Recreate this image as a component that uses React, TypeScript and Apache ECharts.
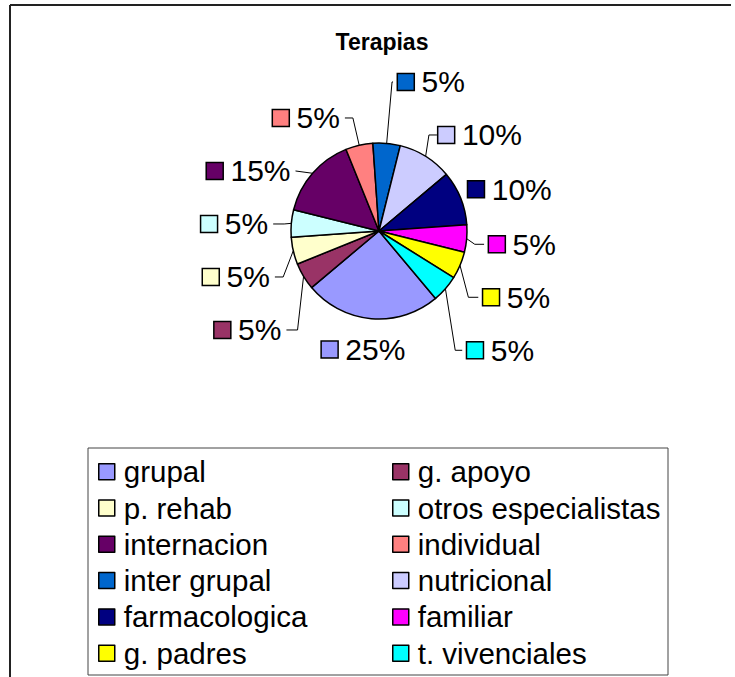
import React, { useEffect, useRef } from "react";
import * as echarts from "echarts";

const chartTitle = "Terapias";
const categories = [
  "grupal",
  "g. apoyo",
  "p. rehab",
  "otros especialistas",
  "internacion",
  "individual",
  "inter grupal",
  "nutricional",
  "farmacologica",
  "familiar",
  "g. padres",
  "t. vivenciales",
];
const values = [5, 1, 1, 1, 3, 1, 1, 2, 2, 1, 1, 1];
const colors = [
  "#9999FF",
  "#993366",
  "#FFFFCC",
  "#CCFFFF",
  "#660066",
  "#FF8080",
  "#0066CC",
  "#CCCCFF",
  "#000080",
  "#FF00FF",
  "#FFFF00",
  "#00FFFF",
];

// label-line styling (layout only, per slice in the same order as categories)
const lineLen = [22, 32, 18.5, 12, 15, 28, 61.6, 26, 18, 13, 12, 13];
const lineLen2 = [0, 11.1, 8.3, 11, 0, 8, 1, 8, 0, 9.3, 9.9, 7];
const lineShown = [false, true, true, true, true, true, true, true, false, true, true, true];
const boxHeight = [30, 51, 51, 51, 51, 51, 51, 51, 51, 51, 51, 51];
// small label nudges (pixels) applied after the library's own label layout
const nudgeX = [41, 0, 0, 0, 0, 0, 0, -34.7, -13, 0, 0, 0];
const nudgeY = [-23, 0, 0, 0, 0, 0, 0, 0, -2, 0, 0, 0];

const FONT = "'Liberation Sans', Arial, sans-serif";

export default function App() {
  const ref = useRef<HTMLDivElement>(null);
  useEffect(() => {
    document.body.style.margin = "0";
    if (!ref.current) return;
    const chart = echarts.init(ref.current, null, { renderer: "svg" });
    const rich: any = {};
    colors.forEach((c, i) => {
      rich["sq" + i] = { width: 15.5, height: 15.5, backgroundColor: c, borderColor: "#000", borderWidth: 1.5 };
      rich["t" + i] = { fontSize: 30, fontFamily: FONT, color: "#000", padding: [0, 0, 0, 8], lineHeight: boxHeight[i] };
    });
    const leftCol = categories.filter((_, i) => i % 2 === 0);
    const rightCol = categories.filter((_, i) => i % 2 === 1);
    const legendBase = {
      orient: "vertical",
      icon: "rect",
      itemWidth: 16,
      itemHeight: 16,
      itemGap: 6.3,
      top: 456.7,
      padding: 0,
      selectedMode: false,
      itemStyle: { borderColor: "#000", borderWidth: 1.5 },
      textStyle: { fontSize: 29.5, fontFamily: FONT, color: "#000", lineHeight: 30, padding: [0, 0, 0, 4] },
    };
    chart.setOption({
      animation: false,
      backgroundColor: "#fff",
      color: colors,
      legend: [
        { ...legendBase, left: 98, data: leftCol },
        { ...legendBase, left: 392, data: rightCol },
      ],
      graphic: [
        { type: "line", shape: { x1: 10, y1: 5, x2: 731, y2: 5 }, style: { stroke: "#222", lineWidth: 2 } },
        { type: "line", shape: { x1: 10, y1: 5, x2: 10, y2: 677 }, style: { stroke: "#222", lineWidth: 2 } },
        {
          type: "rect",
          shape: { x: 88, y: 448, width: 580, height: 227 },
          style: { fill: "none", stroke: "#444", lineWidth: 1 },
          z: -1,
        },
        {
          type: "text",
          x: 382,
          y: 30,
          style: {
            text: chartTitle,
            textAlign: "center",
            textVerticalAlign: "top",
            font: "bold 23px 'Liberation Sans', Arial, sans-serif",
            fill: "#000",
          },
        },
      ],
      series: [
        {
          type: "pie",
          center: [379, 231],
          radius: 88,
          startAngle: -50,
          clockwise: true,
          avoidLabelOverlap: true,
          emphasis: { disabled: true },
          itemStyle: { borderColor: "#000", borderWidth: 1.5 },
          label: {
            show: true,
            position: "outside",
            backgroundColor: "rgba(255,255,255,0)",
            padding: 0,
            formatter: (p: any) => `{sq${p.dataIndex}|}{t${p.dataIndex}|${Math.round(p.percent)}%}`,
            rich,
          },
          labelLine: { show: true, lineStyle: { color: "#000", width: 1 } },
          labelLayout: (p: any) => {
            const i = p.dataIndex;
            if (!nudgeX[i] && !nudgeY[i]) return {};
            if (lineShown[i]) {
              // move the label and let the library redraw its leader line
              return {
                x: p.labelRect.x + nudgeX[i],
                y: p.labelRect.y + p.labelRect.height / 2 + nudgeY[i],
              };
            }
            return { dx: nudgeX[i], dy: nudgeY[i] };
          },
          data: categories.map((n, i) => ({
            name: n,
            value: values[i],
            itemStyle: { color: colors[i] },
            labelLine: { show: lineShown[i], length: lineLen[i], length2: lineLen2[i] },
          })),
        },
      ],
    });
    return () => chart.dispose();
  }, []);
  return <div ref={ref} style={{ width: 735, height: 677 }} />;
}
